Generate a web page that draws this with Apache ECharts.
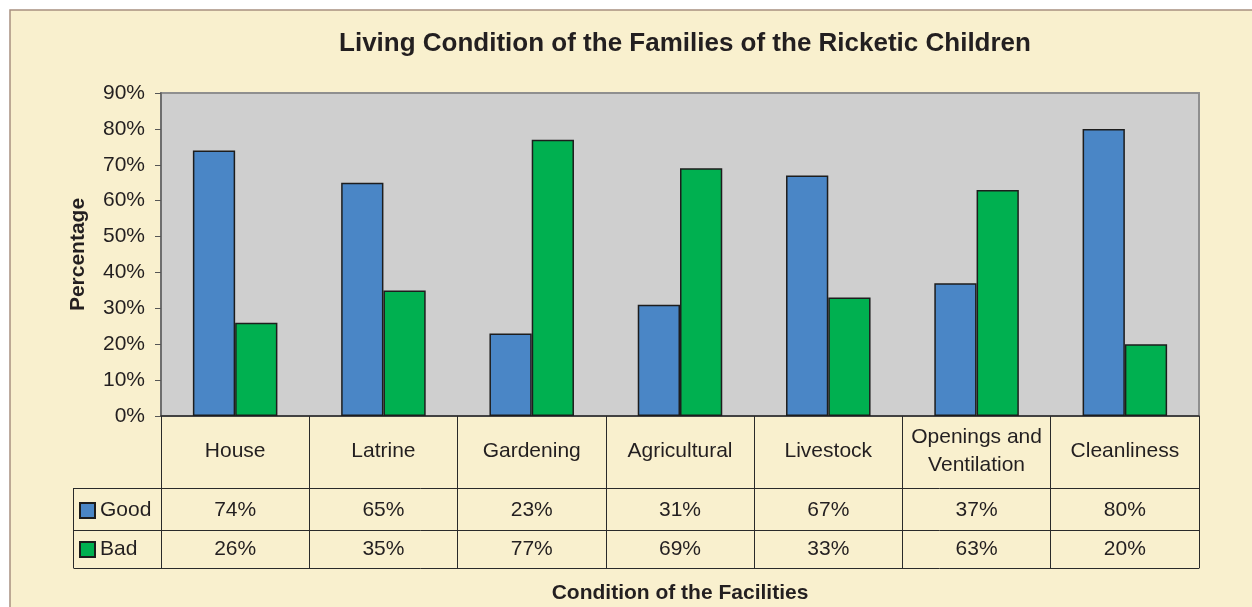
<!DOCTYPE html>
<html>
<head>
<meta charset="utf-8">
<script src="https://cdn.jsdelivr.net/npm/echarts@6/dist/echarts.min.js"></script>
<style>
  html, body { margin: 0; padding: 0; background: #fff; }
  #main { width: 1252px; height: 607px; }
</style>
</head>
<body>
<div id="main"></div>
<script>
// chart data
var categories = ['House', 'Latrine', 'Gardening', 'Agricultural', 'Livestock', 'Openings and\nVentilation', 'Cleanliness'];
var goodValues = [74, 65, 23, 31, 67, 37, 80];
var badValues = [26, 35, 77, 69, 33, 63, 20];
var yTicks = [0, 90, 10]; // min, max, interval

var font = '"Liberation Sans", Arial, sans-serif';
var textColor = '#231f20';
var lineColor = '#2a2a2a';

var myChart = echarts.init(document.getElementById('main'));

function pct(list) {
  return list.map(function (v) { return v + '%'; });
}

// extra category axes used as the rows of the data table under the plot
function tableAxis(offset, labels, margin) {
  return {
    type: 'category',
    gridIndex: 0,
    position: 'bottom',
    offset: offset,
    data: labels,
    axisLine: { show: true, lineStyle: { color: lineColor, width: 1 } },
    axisTick: { show: false },
    axisLabel: {
      show: true, interval: 0, margin: margin, verticalAlign: 'middle',
      fontFamily: font, fontSize: 21, color: textColor
    },
    splitLine: { show: false }
  };
}

var emptyRow = categories.map(function () { return ''; });
var lastRow = tableAxis(152, emptyRow, 10);
lastRow.name = 'Condition of the Facilities';
lastRow.nameLocation = 'middle';
lastRow.nameGap = 14;
lastRow.nameTextStyle = { fontFamily: font, fontSize: 21, fontWeight: 'bold', color: textColor };

var option = {
  backgroundColor: '#ffffff',
  animation: false,
  title: {
    text: 'Living Condition of the Families of the Ricketic Children',
    left: 680,
    textAlign: 'center',
    top: 26,
    textStyle: { fontFamily: font, fontSize: 26, fontWeight: 'bold', color: textColor }
  },
  legend: {
    orient: 'vertical',
    left: 79,
    top: 500,
    padding: 0,
    itemWidth: 15,
    itemHeight: 15,
    itemGap: 18,
    icon: 'rect',
    textStyle: { fontFamily: font, fontSize: 21, color: textColor },
    data: ['Good', 'Bad']
  },
  grid: {
    left: 161, right: 53, top: 93, bottom: 191,
    outerBoundsMode: 'none',
    containLabel: false,
    show: true,
    backgroundColor: '#cfcfcf',
    borderColor: '#8f8f8f',
    borderWidth: 2
  },
  xAxis: [
    {
      type: 'category',
      data: categories,
      axisLine: { show: true, lineStyle: { color: lineColor, width: 1.5 } },
      axisTick: { show: true, alignWithLabel: false, length: 152, lineStyle: { color: lineColor, width: 1 } },
      axisLabel: {
        interval: 0, margin: 35, verticalAlign: 'middle', lineHeight: 28,
        fontFamily: font, fontSize: 21, color: textColor
      }
    },
    tableAxis(72, pct(goodValues), 22),
    tableAxis(114, pct(badValues), 19),
    lastRow
  ],
  yAxis: {
    type: 'value',
    min: yTicks[0],
    max: yTicks[1],
    interval: yTicks[2],
    name: 'Percentage',
    nameLocation: 'middle',
    nameGap: 72,
    nameRotate: 90,
    nameTextStyle: { fontFamily: font, fontSize: 21, fontWeight: 'bold', color: textColor },
    axisLine: { show: true, lineStyle: { color: '#6e6e6e', width: 2 } },
    axisTick: { show: true, inside: false, length: 6, lineStyle: { color: '#555' } },
    axisLabel: {
      margin: 16, formatter: '{value}%',
      fontFamily: font, fontSize: 21, color: textColor
    },
    splitLine: { show: false }
  },
  series: [
    {
      name: 'Good',
      type: 'bar',
      data: goodValues,
      barGap: '0%',
      barCategoryGap: '43%',
      itemStyle: { color: '#4a86c6', borderColor: '#1d1d1d', borderWidth: 1.5 }
    },
    {
      name: 'Bad',
      type: 'bar',
      data: badValues,
      itemStyle: { color: '#00b050', borderColor: '#1d1d1d', borderWidth: 1.5 }
    }
  ]
};

myChart.setOption(option);

// frame of the chart area and the legend column of the table
var x0 = myChart.convertToPixel({ xAxisIndex: 0 }, 0);
var x1 = myChart.convertToPixel({ xAxisIndex: 0 }, 1);
var tableLeft = x0 - (x1 - x0) / 2;
var yBase = myChart.convertToPixel({ yAxisIndex: 0 }, 0);
var rows = [72, 114, 152];
var legendLeft = 73.5;

var graphics = [
  {
    type: 'rect', z: -10, silent: true,
    shape: { x: 10, y: 10, width: 1260, height: 620 },
    style: { fill: '#f9f0ce', stroke: '#a89080', lineWidth: 1.5 }
  },
  {
    type: 'line', silent: true,
    shape: { x1: legendLeft, y1: yBase + rows[0], x2: legendLeft, y2: yBase + rows[2] },
    style: { stroke: lineColor, lineWidth: 1 }
  }
];
rows.forEach(function (r) {
  graphics.push({
    type: 'line', silent: true,
    shape: { x1: legendLeft, y1: yBase + r + 0.5, x2: tableLeft, y2: yBase + r + 0.5 },
    style: { stroke: lineColor, lineWidth: 1 }
  });
});
myChart.setOption({ graphic: graphics });
</script>
</body>
</html>
